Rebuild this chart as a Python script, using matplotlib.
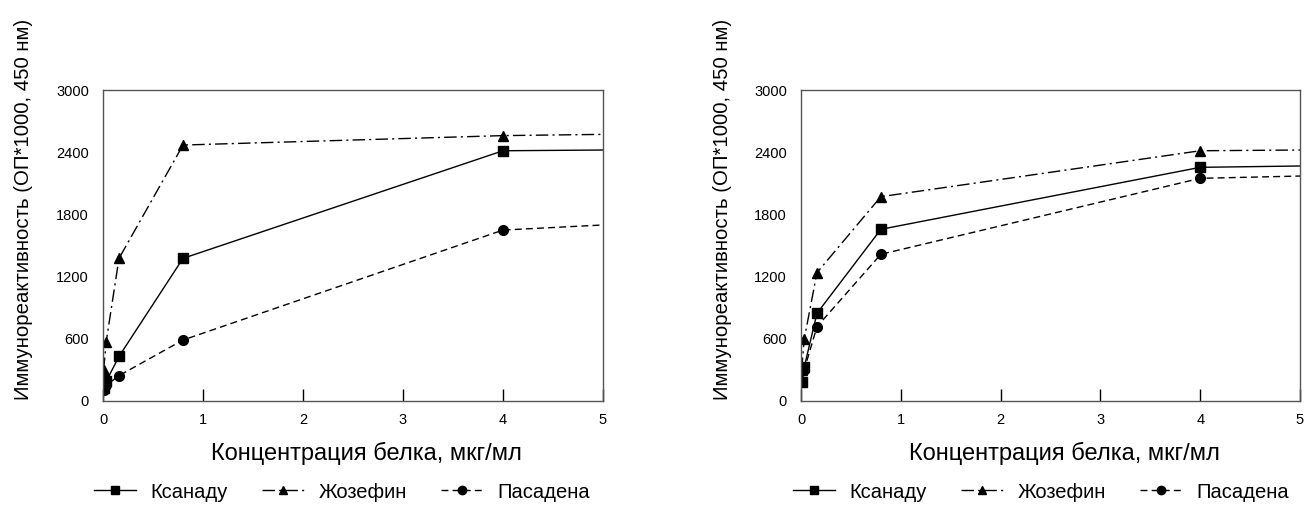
import numpy as np
import matplotlib
matplotlib.use("Agg")
import matplotlib.pyplot as plt
from matplotlib.lines import Line2D

plt.rcParams['font.family'] = ['Liberation Sans', 'DejaVu Sans']

# concentrations (last point only carries the line to the axis edge)
conc = [0.0064, 0.032, 0.16, 0.8, 4, 5]

# left panel
left_xanadu = [130, 190, 430, 1376, 2414, 2421]
left_josephine = [299, 572, 1376, 2469, 2560, 2572]
left_pasadena = [110, 150, 245, 588, 1649, 1698]

# right panel
right_xanadu = [186, 325, 846, 1656, 2254, 2267]
right_josephine = [299, 595, 1238, 1971, 2414, 2421]
right_pasadena = [180, 300, 717, 1415, 2148, 2170]

names = ["Ксанаду", "Жозефин", "Пасадена"]
styles = [("-", "s", 7), ((0, (9, 3, 1.5, 3)), "^", 7), ((0, (5, 3)), "o", 7)]

xlabel = "Концентрация белка, мкг/мл"
ylabel = "Иммунореактивность (ОП*1000, 450 нм)"

fig = plt.figure(figsize=(13.11, 5.08), dpi=100)
ax1 = fig.add_axes([103/1311, 1-401/508, 500/1311, 311/508])
ax2 = fig.add_axes([801/1311, 1-401/508, 499/1311, 311/508])

panels = [(ax1, [left_xanadu, left_josephine, left_pasadena]),
          (ax2, [right_xanadu, right_josephine, right_pasadena])]

for ax, series in panels:
    for vals, (ls, mk, ms) in zip(series, styles):
        ax.plot(conc, vals, color="black", linestyle=ls, linewidth=1.0,
                marker=mk, markersize=ms, markevery=list(range(len(conc) - 1)))
    ax.set_xlim(0, 5)
    ax.set_ylim(0, 3000)
    ax.set_xticks([0, 1, 2, 3, 4, 5])
    ax.set_yticks([0, 600, 1200, 1800, 2400, 3000])
    ax.tick_params(axis="x", direction="in", length=9, width=1, pad=9,
                   labelsize=10.5, top=False)
    ax.tick_params(axis="y", length=0, pad=10, labelsize=10.5)
    for sp in ax.spines.values():
        sp.set_color("#555555")
        sp.set_linewidth(1.0)

# axis labels and legends placed in figure coordinates
for xc, ylx, legx in [(366, 24, 342), (1064, 722, 1041)]:
    fig.text(xc/1311, 1-453/508, xlabel, ha="center", va="center", fontsize=17)
    fig.text(ylx/1311, 1-209/508, ylabel, ha="center", va="center",
             rotation=90, fontsize=14.7)
    handles = [Line2D([], [], color="black", linestyle=ls, linewidth=1.0,
                      marker=mk, markersize=6) for ls, mk, ms in styles]
    fig.legend(handles, names, loc="center", ncol=3, frameon=False,
               bbox_to_anchor=(legx/1311, 1-492/508), fontsize=14.5,
               handlelength=2.1, columnspacing=1.7, handletextpad=0.7,
               borderpad=0.2)

fig.savefig("out.png", dpi=100)
